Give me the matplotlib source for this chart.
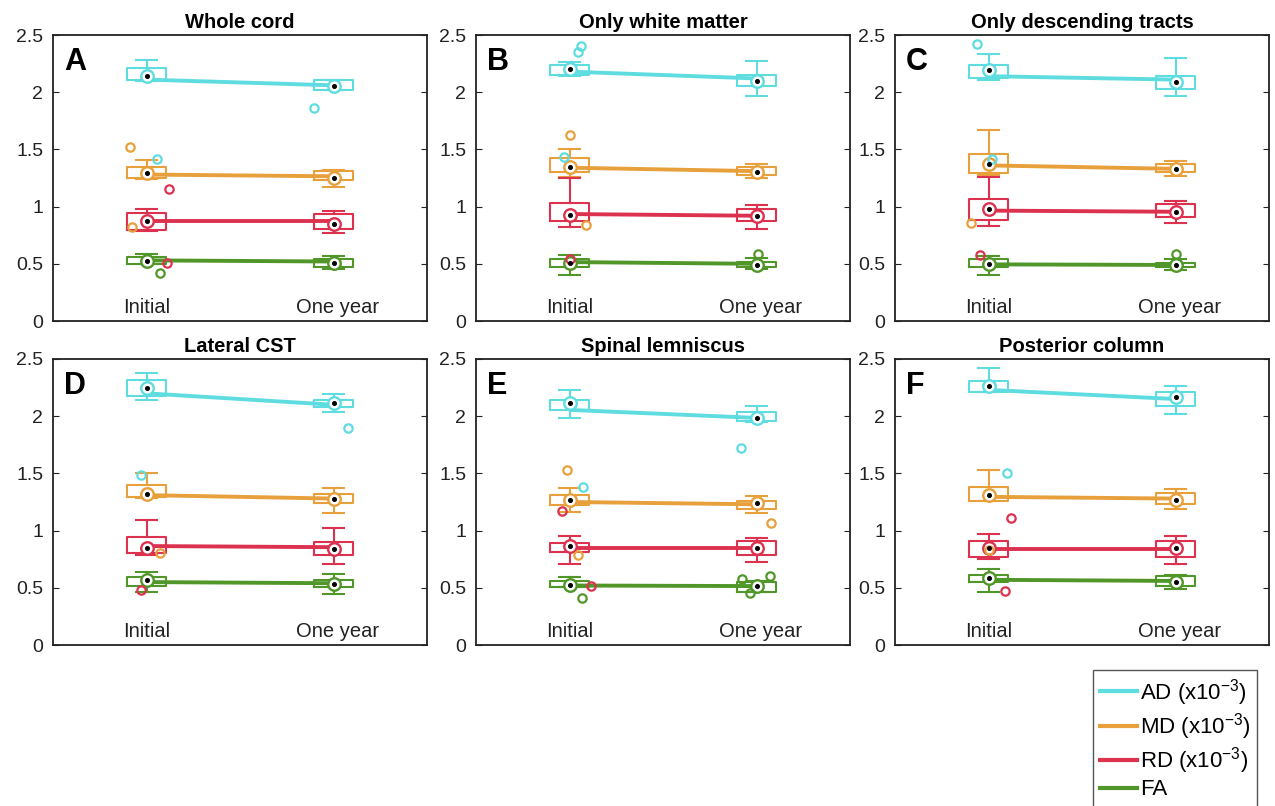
import matplotlib
matplotlib.use("Agg")
import matplotlib.pyplot as plt
from matplotlib.lines import Line2D

plt.rcParams['font.family'] = ['Liberation Sans', 'DejaVu Sans']
plt.rcParams['mathtext.default'] = 'regular'

# ---------------- data ----------------
PANELS = ["A", "B", "C", "D", "E", "F"]
TITLES = ["Whole cord", "Only white matter", "Only descending tracts",
          "Lateral CST", "Spinal lemniscus", "Posterior column"]
MEASURES = ["AD", "MD", "RD", "FA"]
LEGEND_LABELS = ["AD (x10$^{-3}$)", "MD (x10$^{-3}$)", "RD (x10$^{-3}$)", "FA"]
TIMES = ["Initial", "One year"]
COLORS = ["#5fdce0", "#e8a03c", "#dc3250", "#509628"]
YTICKS = [0, 0.5, 1, 1.5, 2, 2.5]

# [panel][measure] -> (initial, one year)
MED = [
    [(2.14, 2.055), (1.295, 1.25), (0.875, 0.85), (0.525, 0.51)],
    [(2.20, 2.10), (1.35, 1.30), (0.925, 0.915), (0.505, 0.49)],
    [(2.19, 2.085), (1.375, 1.33), (0.975, 0.955), (0.50, 0.49)],
    [(2.25, 2.115), (1.32, 1.275), (0.85, 0.84), (0.567, 0.53)],
    [(2.115, 1.985), (1.27, 1.245), (0.865, 0.85), (0.525, 0.52)],
    [(2.265, 2.165), (1.31, 1.27), (0.85, 0.85), (0.587, 0.547)],
]
Q1 = [
    [(2.11, 2.02), (1.25, 1.23), (0.795, 0.805), (0.50, 0.475)],
    [(2.15, 2.05), (1.30, 1.28), (0.87, 0.877), (0.475, 0.47)],
    [(2.12, 2.03), (1.29, 1.30), (0.885, 0.91), (0.475, 0.47)],
    [(2.18, 2.08), (1.29, 1.245), (0.807, 0.79), (0.52, 0.51)],
    [(2.05, 1.955), (1.22, 1.19), (0.81, 0.785), (0.51, 0.465)],
    [(2.21, 2.09), (1.26, 1.235), (0.77, 0.765), (0.547, 0.52)],
]
Q3 = [
    [(2.21, 2.105), (1.345, 1.31), (0.945, 0.935), (0.56, 0.54)],
    [(2.235, 2.15), (1.425, 1.35), (1.03, 0.975), (0.54, 0.52)],
    [(2.24, 2.14), (1.46, 1.37), (1.07, 1.02), (0.54, 0.51)],
    [(2.32, 2.14), (1.40, 1.32), (0.94, 0.90), (0.595, 0.567)],
    [(2.14, 2.04), (1.31, 1.26), (0.89, 0.91), (0.56, 0.547)],
    [(2.31, 2.215), (1.385, 1.33), (0.91, 0.91), (0.61, 0.605)],
]
WHI = [
    [(2.28, 2.11), (1.41, 1.32), (0.975, 0.965), (0.585, 0.57)],
    [(2.265, 2.27), (1.50, 1.375), (1.25, 1.015), (0.575, 0.555)],
    [(2.33, 2.30), (1.67, 1.40), (1.26, 1.045), (0.57, 0.54)],
    [(2.38, 2.195), (1.50, 1.37), (1.09, 1.025), (0.64, 0.625)],
    [(2.225, 2.09), (1.37, 1.30), (0.95, 0.935), (0.595, 0.56)],
    [(2.425, 2.26), (1.53, 1.36), (0.97, 0.95), (0.66, 0.615)],
]
WLO = [
    [(2.10, 2.02), (1.24, 1.175), (0.79, 0.765), (0.50, 0.455)],
    [(2.14, 1.965), (1.26, 1.25), (0.82, 0.805), (0.40, 0.455)],
    [(2.11, 1.97), (1.28, 1.27), (0.83, 0.855), (0.40, 0.445)],
    [(2.14, 2.04), (1.285, 1.15), (0.79, 0.705), (0.46, 0.445)],
    [(1.985, 1.95), (1.165, 1.15), (0.705, 0.725), (0.51, 0.465)],
    [(2.21, 2.015), (1.255, 1.19), (0.755, 0.71), (0.465, 0.49)],
]
MEAN = [
    [(2.11, 2.06), (1.28, 1.265), (0.87, 0.87), (0.53, 0.52)],
    [(2.18, 2.12), (1.34, 1.31), (0.935, 0.92), (0.515, 0.50)],
    [(2.14, 2.11), (1.36, 1.33), (0.965, 0.955), (0.495, 0.49)],
    [(2.20, 2.10), (1.31, 1.28), (0.865, 0.855), (0.55, 0.54)],
    [(2.055, 1.985), (1.25, 1.23), (0.845, 0.845), (0.52, 0.515)],
    [(2.23, 2.15), (1.295, 1.28), (0.835, 0.835), (0.57, 0.56)],
]
# outliers: (panel, measure, time, value, horizontal jitter)
OUTLIERS = [
    (0, 0, 0, 1.42, 0.055), (0, 0, 1, 1.86, -0.105), (0, 1, 0, 1.52, -0.09),
    (0, 1, 0, 0.82, -0.075), (0, 2, 0, 1.15, 0.12), (0, 2, 0, 0.51, 0.11),
    (0, 3, 0, 0.42, 0.07),
    (1, 0, 0, 2.40, 0.064), (1, 0, 0, 2.35, 0.048), (1, 0, 0, 1.43, -0.03),
    (1, 1, 0, 1.63, 0.0), (1, 1, 0, 0.84, 0.09), (1, 2, 0, 0.545, 0.0),
    (1, 3, 1, 0.59, 0.01),
    (2, 0, 0, 2.42, -0.06), (2, 0, 0, 1.42, 0.02), (2, 1, 0, 0.857, -0.095),
    (2, 2, 0, 0.575, -0.045), (2, 3, 1, 0.585, 0.0),
    (3, 0, 0, 1.485, -0.03), (3, 0, 1, 1.895, 0.08), (3, 1, 0, 0.807, 0.07),
    (3, 2, 0, 0.48, -0.03),
    (4, 0, 0, 1.38, 0.07), (4, 0, 1, 1.725, -0.085), (4, 1, 0, 1.53, -0.015),
    (4, 1, 0, 0.79, 0.045), (4, 1, 1, 1.07, 0.08), (4, 2, 0, 1.175, -0.04),
    (4, 2, 0, 0.515, 0.115), (4, 3, 0, 0.41, 0.065), (4, 3, 1, 0.58, -0.075),
    (4, 3, 1, 0.60, 0.07), (4, 3, 1, 0.457, -0.035),
    (5, 0, 0, 1.50, 0.10), (5, 1, 0, 0.83, 0.0), (5, 2, 0, 1.11, 0.12),
    (5, 2, 0, 0.47, 0.09),
]

# ---------------- figure ----------------
W, H = 1275, 806
fig = plt.figure(figsize=(W / 100, H / 100), dpi=100)

lefts = [53, 476, 895]
tops = [35, 359]
aw, ah = 374, 286

positions = [1, 2]
for p in range(6):
    r, c = divmod(p, 3)
    ax = fig.add_axes([lefts[c] / W, 1 - (tops[r] + ah) / H, aw / W, ah / H])
    for m in range(4):
        col = COLORS[m]
        stats = []
        for t in range(2):
            stats.append(dict(med=MED[p][m][t], q1=Q1[p][m][t], q3=Q3[p][m][t],
                              whislo=WLO[p][m][t], whishi=WHI[p][m][t], fliers=[]))
        ax.bxp(stats, positions=positions, widths=0.21, capwidths=0.11,
               showfliers=False, manage_ticks=False,
               boxprops=dict(color=col, lw=1.5),
               whiskerprops=dict(color=col, lw=1.5),
               capprops=dict(color=col, lw=1.5),
               medianprops=dict(lw=0))
        ax.plot(positions, MEAN[p][m], color=col, lw=2.8, solid_capstyle='butt', zorder=3)
        ax.plot(positions, MED[p][m], ls='none', marker='o', ms=9, mfc='white',
                mec=col, mew=1.7, zorder=4)
        ax.plot(positions, MED[p][m], ls='none', marker='o', ms=2.6, mfc='black',
                mec='black', zorder=5)
    for (pp, m, t, v, dx) in OUTLIERS:
        if pp == p:
            ax.plot(positions[t] + dx, v, ls='none', marker='o', ms=6, mfc='none',
                    mec=COLORS[m], mew=1.6, zorder=4)

    ax.set_xlim(0.5, 2.5)
    ax.set_ylim(0, 2.5)
    ax.set_yticks(YTICKS)
    ax.set_yticklabels(["0", "0.5", "1", "1.5", "2", "2.5"])
    ax.set_xticks([])
    ax.tick_params(axis='y', direction='in', length=4, width=0.8, labelsize=14,
                   right=True, pad=7, colors='#222222')
    for s in ax.spines.values():
        s.set_linewidth(1.3)
        s.set_color('#222222')
    ax.set_title(TITLES[p], fontsize=14.5, fontweight='bold', pad=5)
    ax.text(0.03, 0.905, PANELS[p], transform=ax.transAxes, fontsize=22,
            fontweight='heavy', ha='left', va='center')
    for t in range(2):
        ax.text(positions[t] + (0.0 if t == 0 else 0.02), 0.12, TIMES[t],
                fontsize=14.5, ha='center', va='center', color='#222222')

handles = [Line2D([], [], color=c, lw=3) for c in COLORS]
fig.legend(handles, LEGEND_LABELS, loc='upper left',
           bbox_to_anchor=(1093 / W, 1 - 670 / H), borderaxespad=0, fontsize=16,
           handlelength=1.7, handletextpad=0.1, labelspacing=0.15,
           borderpad=0.3, frameon=True, fancybox=False, edgecolor='#555555',
           framealpha=1)

fig.savefig("out.png", dpi=100)
